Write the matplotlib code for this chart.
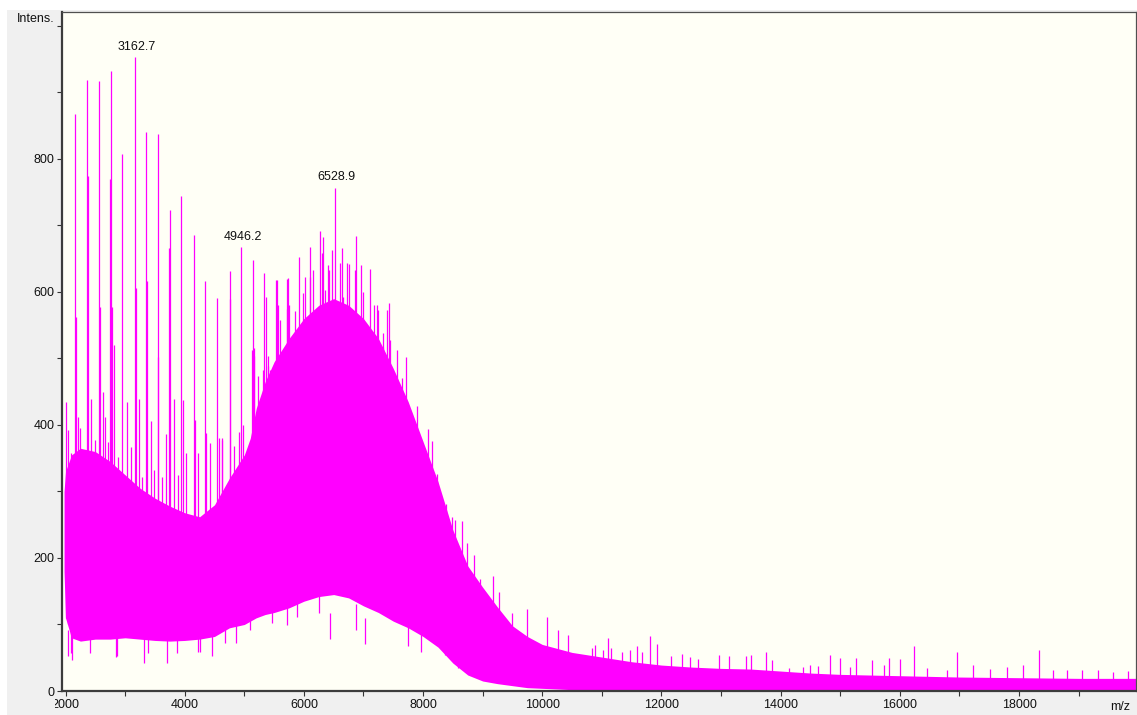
import numpy as np
import matplotlib
matplotlib.use("Agg")
import matplotlib.pyplot as plt
from matplotlib.patches import Rectangle
from matplotlib.ticker import MultipleLocator, FixedLocator, FuncFormatter
from matplotlib.transforms import Bbox, TransformedBbox

plt.rcParams['font.family'] = ['Liberation Sans', 'DejaVu Sans']

# ---- spectrum data (m/z, intensity) ----
# dense baseline band: upper and lower envelopes
band_mz = [1975, 2000, 2100, 2250, 2500, 2750, 3000, 3250, 3500, 3750, 4000,
           4250, 4500, 4750, 5000, 5100, 5200, 5350, 5500, 5750, 6000, 6250,
           6500, 6750, 7000, 7250, 7500, 7750, 8000, 8250, 8500, 8750, 9000,
           9250, 9500, 9750, 10000, 10500, 11000, 11500, 12000, 12500, 13000,
           13500, 14000, 14500, 15000, 16000, 17000, 18000, 19000, 19963]
band_hi = [300, 330, 355, 365, 360, 345, 325, 305, 290, 278, 268,
           262, 280, 320, 355, 380, 425, 465, 495, 530, 560, 580,
           590, 580, 560, 530, 485, 435, 375, 315, 242, 188, 156,
           126, 98, 82, 70, 58, 51, 44, 39, 36, 34,
           33, 30, 27, 25, 23, 21, 20, 19, 19]
band_lo = [180, 110, 80, 75, 78, 78, 80, 78, 76, 75, 76,
           78, 82, 95, 100, 105, 110, 115, 118, 125, 135, 142,
           145, 140, 128, 118, 105, 95, 82, 66, 42, 24, 15,
           11, 8, 5, 4, 2, 0, 0, 0, 0, 0,
           0, 0, 0, 0, 0, 0, 0, 0, 0]

# ladder of tall singly charged peaks
ladder_mz = [2015, 2167, 2177, 2362, 2374, 2436, 2564, 2576, 2621, 2744, 2761,
             2783, 2816, 2951, 3035, 3162.7, 3181, 3227, 3345, 3362, 3429,
             3547, 3557, 3737, 3754, 3826, 3944, 3967, 4163, 4169, 4343, 4355,
             4550, 4634, 4752, 4764, 4946.2, 4970, 5139, 5156, 5336, 5364,
             5538, 5560, 5735, 5757, 5925, 6110, 6278, 6528.9]
ladder_int = [435, 868, 563, 919, 775, 439, 917, 578, 450, 770, 933,
              578, 520, 807, 434, 953, 606, 439, 840, 617, 406,
              838, 502, 666, 723, 439, 744, 437, 686, 407, 616, 388,
              591, 380, 632, 589, 668, 400, 648, 516, 629, 593,
              618, 580, 621, 580, 652, 668, 691, 757]

# individual noise spikes rising above the band
spike_mz = [2042, 2099, 2210, 2250, 2491, 2660, 2715, 2873, 3092, 3277, 3490,
            3614, 3681, 3894, 4023, 4220, 4427, 4583, 4622, 4819, 4903, 5124,
            5163, 5229, 5319, 5391, 5403, 5432, 5544, 5605, 5712, 5718, 5739,
            5851, 5990, 6026, 6047, 6103, 6158, 6215, 6299, 6317, 6355, 6410,
            6418, 6467, 6606, 6632, 6662, 6718, 6763, 6802, 6858, 6879, 6951,
            6997, 7108, 7177, 7232, 7249, 7320, 7333, 7400, 7429, 7445, 7501,
            7570, 7585, 7645, 7715, 7905, 8075, 8150, 8240, 8385,
            8480, 8535, 8650, 8730, 8855, 8955, 9165, 9280, 9485, 9745, 10075,
            10265, 10435, 10830, 10885, 11024, 11108, 11157, 11332, 11472,
            11583, 11668, 11808, 11918, 12159, 12339, 12478, 12618, 12970,
            13139, 13419, 13502, 13749, 13849, 14140, 14370, 14493, 14632,
            14829, 14996, 15164, 15264, 15538, 15734, 15818, 16003, 16237,
            16449, 16786, 16959, 17222, 17513, 17803, 18062, 18330, 18575,
            18799, 19051, 19319, 19582, 19833]
spike_int = [392, 358, 412, 395, 377, 412, 375, 352, 367, 322, 332,
             322, 387, 325, 358, 358, 373, 380, 378, 369, 390, 513,
             503, 473, 483, 488, 503, 483, 618, 558, 620, 575, 543,
             571, 598, 623, 528, 623, 633, 548, 658, 682, 603, 641,
             633, 663, 643, 666, 593, 643, 642, 518, 633, 684, 640,
             600, 634, 580, 580, 573, 518, 538, 573, 584, 528, 463,
             513, 453, 471, 502, 429, 394, 376, 326, 281,
             262, 257, 255, 223, 205, 168, 173, 149, 117, 123, 111,
             92, 84, 64, 69, 62, 80, 65, 58, 62,
             68, 58, 82, 71, 53, 55, 51, 48, 54,
             52, 52, 54, 58, 46, 35, 36, 39, 37,
             54, 49, 36, 49, 47, 39, 49, 48, 68,
             35, 31, 58, 39, 33, 36, 39, 61, 32,
             31, 32, 31, 29, 30]

# dips reaching below the band
dip_mz = [2042, 2085, 2116, 2407, 2855, 2867, 3321, 3388, 3708, 3877, 4220,
          4259, 4463, 4679, 4865, 5100, 5465, 5718, 5886, 6250, 6440, 6869,
          7020, 7742, 7961, 8374, 8593]
dip_int = [52, 57, 47, 57, 51, 52, 42, 57, 42, 57, 59,
           59, 52, 72, 72, 92, 102, 99, 112, 117, 78, 91,
           70, 67, 59, 54, 35]

labelled_mz = [3162.7, 4946.2, 6528.9]
labelled_int = [953, 668, 757]

x_ticks = [2000, 4000, 6000, 8000, 10000, 12000, 14000, 16000, 18000]
y_ticks = [0, 200, 400, 600, 800, 1000]

# ---- figure ----
W, H = 1137, 715
fig = plt.figure(figsize=(W / 100, H / 100), dpi=100, facecolor='white')
panel = Rectangle((7 / W, 0), 1 - 7 / W, 1 - 10 / H, transform=fig.transFigure,
                  facecolor='#f0f0f0', edgecolor='none', zorder=-10)
fig.patches.append(panel)

ax = fig.add_axes([62 / W, 24 / H, (1136 - 62) / W, (691 - 12) / H])
ax.set_zorder(1)
ax.set_facecolor('#fffff6')
ax.set_xlim(1941, 19963)
ax.set_ylim(0, 1021)

mag = '#ff00ff'


def band_floor(x):
    # lines start inside the band so nothing shows beneath its lower edge
    return np.interp(x, band_mz, band_lo) + 4


ax.fill_between(band_mz, band_lo, band_hi, color=mag, lw=0, zorder=2)
ax.vlines(spike_mz, band_floor(spike_mz), spike_int, color=mag, lw=0.9, zorder=2)
ax.vlines(dip_mz, dip_int, np.array(dip_int) + 40, color=mag, lw=0.9, zorder=2)
ax.vlines(ladder_mz, band_floor(ladder_mz), ladder_int, color=mag, lw=0.9, zorder=3)

for mz, it in zip(labelled_mz, labelled_int):
    ax.annotate(f"{mz:.1f}", (mz, it), xytext=(1, 3), textcoords='offset points',
                ha='center', va='bottom', fontsize=9, color='#111111')

# spines
for s in ('left', 'bottom'):
    ax.spines[s].set_linewidth(1.6)
    ax.spines[s].set_color('#3c3c3c')
for s in ('top', 'right'):
    ax.spines[s].set_linewidth(0.9)
    ax.spines[s].set_color('#505050')

# ticks
ax.xaxis.set_major_locator(FixedLocator(x_ticks))
ax.xaxis.set_minor_locator(MultipleLocator(1000))
ax.xaxis.set_major_formatter(FuncFormatter(lambda v, p: '' if v == 2000 else f"{int(v)}"))
ax.yaxis.set_major_locator(FixedLocator(y_ticks))
ax.yaxis.set_minor_locator(MultipleLocator(100))
ax.yaxis.set_major_formatter(FuncFormatter(lambda v, p: '' if v >= 1000 else f"{int(v)}"))
ax.tick_params(which='both', direction='out', length=3.5, width=0.8,
               color='#333333', labelsize=9, labelcolor='#111111', pad=2)

# first x label, partly hidden behind the panel edge
t2000 = fig.text(65.5 / W, 1 - 698.5 / H, '2000', ha='center', va='top',
                 fontsize=9, color='#111111', zorder=5)
t2000.set_clip_box(TransformedBbox(Bbox([[55 / W, 0], [1, 1]]), fig.transFigure))
t2000.set_clip_on(True)

fig.text(55 / W, 1 - 19 / H, 'Intens.', ha='right', va='center', fontsize=9,
         color='#111111', zorder=5)
fig.text(1120 / W, 1 - 707 / H, 'm/z', ha='center', va='center', fontsize=9,
         color='#111111', zorder=5)

fig.savefig('out.png', dpi=100, facecolor=fig.get_facecolor())
